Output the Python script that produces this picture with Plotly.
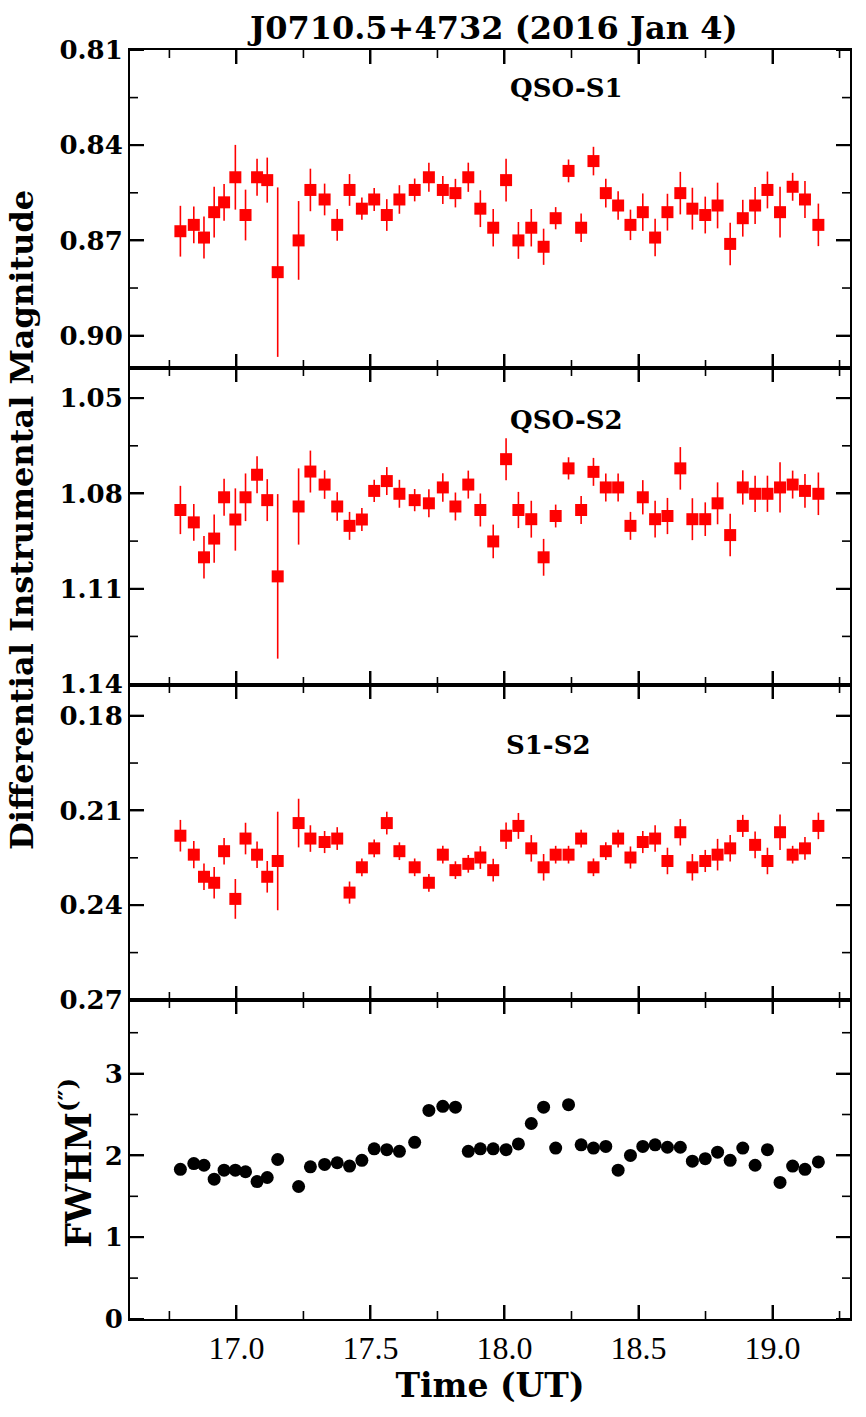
import plotly.graph_objects as go
from plotly.subplots import make_subplots

# ---- data ----
time_ut = [16.791, 16.841, 16.879, 16.917, 16.954, 16.996, 17.034, 17.077, 17.115, 17.154,
           17.232, 17.276, 17.329, 17.376, 17.422, 17.468, 17.514, 17.561, 17.608, 17.665,
           17.718, 17.770, 17.817, 17.865, 17.910, 17.958, 18.006, 18.052, 18.100, 18.146,
           18.191, 18.239, 18.286, 18.332, 18.378, 18.424, 18.470, 18.516, 18.562, 18.608,
           18.656, 18.701, 18.749, 18.795, 18.842, 18.889, 18.935, 18.981, 19.028, 19.075,
           19.121, 19.171]

qso_s1 = [0.8671, 0.8651, 0.8691, 0.8611, 0.8580, 0.8501, 0.8620, 0.8501, 0.8510, 0.8800,
          0.8700, 0.8541, 0.8571, 0.8651, 0.8541, 0.8600, 0.8571, 0.8620, 0.8571, 0.8541,
          0.8501, 0.8541, 0.8551, 0.8501, 0.8600, 0.8660, 0.8510, 0.8700, 0.8660, 0.8720,
          0.8630, 0.8481, 0.8660, 0.8450, 0.8551, 0.8590, 0.8651, 0.8611, 0.8691, 0.8611,
          0.8551, 0.8600, 0.8620, 0.8590, 0.8711, 0.8630, 0.8590, 0.8541, 0.8611, 0.8531,
          0.8571, 0.8651]
qso_s1_err = [0.0080, 0.0058, 0.0066, 0.0080, 0.0058, 0.0102, 0.0080, 0.0058, 0.0071, 0.0267,
              0.0124, 0.0067, 0.0050, 0.0050, 0.0050, 0.0035, 0.0036, 0.0050, 0.0045, 0.0036,
              0.0046, 0.0044, 0.0045, 0.0046, 0.0058, 0.0059, 0.0067, 0.0058, 0.0059, 0.0057,
              0.0035, 0.0036, 0.0045, 0.0045, 0.0045, 0.0045, 0.0048, 0.0059, 0.0059, 0.0058,
              0.0067, 0.0066, 0.0058, 0.0072, 0.0067, 0.0058, 0.0058, 0.0058, 0.0080, 0.0044,
              0.0058, 0.0067]

qso_s2 = [1.0852, 1.0891, 1.1001, 1.0942, 1.0812, 1.0882, 1.0812, 1.0741, 1.0821, 1.1061,
          1.0841, 1.0731, 1.0772, 1.0841, 1.0902, 1.0882, 1.0792, 1.0761, 1.0801, 1.0821,
          1.0831, 1.0781, 1.0841, 1.0772, 1.0852, 1.0951, 1.0692, 1.0852, 1.0881, 1.1001,
          1.0871, 1.0721, 1.0852, 1.0732, 1.0781, 1.0781, 1.0902, 1.0812, 1.0881, 1.0871,
          1.0721, 1.0881, 1.0881, 1.0831, 1.0931, 1.0781, 1.0801, 1.0801, 1.0781, 1.0772,
          1.0792, 1.0801]
qso_s2_err = [0.0076, 0.0058, 0.0067, 0.0076, 0.0058, 0.0098, 0.0075, 0.0058, 0.0066, 0.0259,
              0.0120, 0.0066, 0.0045, 0.0045, 0.0044, 0.0036, 0.0035, 0.0044, 0.0044, 0.0035,
              0.0044, 0.0045, 0.0044, 0.0044, 0.0052, 0.0053, 0.0066, 0.0057, 0.0058, 0.0058,
              0.0036, 0.0035, 0.0044, 0.0044, 0.0044, 0.0044, 0.0044, 0.0054, 0.0058, 0.0057,
              0.0067, 0.0066, 0.0053, 0.0066, 0.0067, 0.0054, 0.0057, 0.0057, 0.0079, 0.0044,
              0.0053, 0.0067]

s1_s2 = [0.2180, 0.2240, 0.2310, 0.2329, 0.2229, 0.2380, 0.2189, 0.2240, 0.2310, 0.2260,
         0.2140, 0.2189, 0.2200, 0.2189, 0.2360, 0.2280, 0.2220, 0.2140, 0.2229, 0.2280,
         0.2329, 0.2240, 0.2289, 0.2269, 0.2249, 0.2289, 0.2180, 0.2149, 0.2220, 0.2280,
         0.2240, 0.2240, 0.2189, 0.2280, 0.2229, 0.2189, 0.2249, 0.2200, 0.2189, 0.2260,
         0.2169, 0.2280, 0.2260, 0.2240, 0.2220, 0.2149, 0.2209, 0.2260, 0.2169, 0.2240,
         0.2220, 0.2149]
s1_s2_err = [0.0050, 0.0043, 0.0042, 0.0050, 0.0042, 0.0063, 0.0050, 0.0042, 0.0050, 0.0156,
             0.0077, 0.0042, 0.0035, 0.0036, 0.0035, 0.0028, 0.0028, 0.0036, 0.0028, 0.0028,
             0.0028, 0.0028, 0.0028, 0.0028, 0.0036, 0.0036, 0.0042, 0.0041, 0.0042, 0.0042,
             0.0028, 0.0028, 0.0028, 0.0028, 0.0028, 0.0028, 0.0035, 0.0035, 0.0042, 0.0042,
             0.0042, 0.0042, 0.0035, 0.0050, 0.0042, 0.0035, 0.0042, 0.0042, 0.0056, 0.0028,
             0.0036, 0.0042]

fwhm = [1.83, 1.90, 1.88, 1.71, 1.82, 1.82, 1.80, 1.68, 1.73, 1.95,
        1.62, 1.86, 1.89, 1.91, 1.87, 1.94, 2.08, 2.07, 2.05, 2.16,
        2.55, 2.60, 2.59, 2.05, 2.08, 2.08, 2.07, 2.14, 2.39, 2.59,
        2.09, 2.62, 2.13, 2.09, 2.11, 1.82, 2.00, 2.11, 2.13, 2.10,
        2.10, 1.93, 1.96, 2.04, 1.94, 2.09, 1.88, 2.07, 1.67, 1.87,
        1.83, 1.92]

x_ticks = [17.0, 17.5, 18.0, 18.5, 19.0]
x_tick_labels = ["17.0", "17.5", "18.0", "18.5", "19.0"]
x_minor = [16.75, 17.25, 17.75, 18.25, 18.75, 19.25]
y1_ticks = [0.81, 0.84, 0.87, 0.90]
y1_labels = ["0.81", "0.84", "0.87", "0.90"]
y1_minor = [0.825, 0.855, 0.885]
y2_ticks = [1.05, 1.08, 1.11, 1.14]
y2_labels = ["1.05", "1.08", "1.11", "1.14"]
y2_minor = [1.065, 1.095, 1.125]
y3_ticks = [0.18, 0.21, 0.24, 0.27]
y3_labels = ["0.18", "0.21", "0.24", "0.27"]
y3_minor = [0.195, 0.225, 0.255]
y4_ticks = [0, 1, 2, 3]
y4_labels = ["0", "1", "2", "3"]
y4_minor = [0.5, 1.5, 2.5, 3.5]

title_text = "J0710.5+4732 (2016 Jan 4)"
panel_labels = ["QSO-S1", "QSO-S2", "S1-S2"]

# ---- figure ----
W, H = 866, 1417
ML, MR, MT, MB = 130, 16, 50, 98
PH = H - MT - MB
PW = W - ML - MR
ROW_H = [318, 317, 315, 319]

fig = make_subplots(rows=4, cols=1, shared_xaxes=True, vertical_spacing=0,
                    row_heights=ROW_H)

RED = "#ff0000"
for i, (yv, ev) in enumerate([(qso_s1, qso_s1_err), (qso_s2, qso_s2_err), (s1_s2, s1_s2_err)]):
    fig.add_trace(go.Scatter(
        x=time_ut, y=yv, mode="markers",
        marker=dict(symbol="square", size=12, color=RED, line=dict(width=0)),
        error_y=dict(type="data", array=ev, color=RED, thickness=1.6, width=0),
        showlegend=False), row=i + 1, col=1)

fig.add_trace(go.Scatter(
    x=time_ut, y=fwhm, mode="markers",
    marker=dict(symbol="circle", size=13, color="black", line=dict(width=0)),
    showlegend=False), row=4, col=1)

BOLD = "DejaVu Serif"
REG = "Liberation Serif"

y_specs = [
    (y1_ticks, y1_labels, y1_minor, [0.9102, 0.8100]),
    (y2_ticks, y2_labels, y2_minor, [1.1403, 1.0405]),
    (y3_ticks, y3_labels, y3_minor, [0.2700, 0.1703]),
    (y4_ticks, y4_labels, y4_minor, [0.0, 3.9]),
]
for i, (tv, tt, mv, rng) in enumerate(y_specs):
    fig.update_yaxes(row=i + 1, col=1, range=rng,
                     tickmode="array", tickvals=tv, ticktext=["<b>%s</b>" % t for t in tt],
                     ticks="inside", ticklen=14, tickwidth=2, tickcolor="black",
                     showline=True, linecolor="black", linewidth=2, mirror="allticks",
                     showgrid=False, zeroline=False,
                     tickfont=dict(family=BOLD, size=26, color="black"))
    fig.update_xaxes(row=i + 1, col=1, range=[16.603, 19.289],
                     tickmode="array", tickvals=x_ticks, ticktext=x_tick_labels,
                     ticks="inside", ticklen=14, tickwidth=2, tickcolor="black",
                     showline=True, linecolor="black", linewidth=2, mirror="allticks",
                     showgrid=False, zeroline=False,
                     tickfont=dict(family=REG, size=32, color="black"))

fig.update_xaxes(row=4, col=1, title=dict(text="<b>Time (UT)</b>", standoff=4,
                 font=dict(family=BOLD, size=33, color="black")))

# explicit tick marks (inside, on all four sides) drawn from the tick arrays
MAJ, MIN = 14, 8
shapes = []
for i, (tv, tt, mv, rng) in enumerate(y_specs):
    sfx = "" if i == 0 else str(i + 1)
    xr, yr = "x" + sfx, "y" + sfx
    ph = ROW_H[i]
    for vals, ln, lw in ((x_ticks, MAJ, 2), (x_minor, MIN, 1.6)):
        f = ln / ph
        for v in vals:
            for y0, y1 in ((0, f), (1, 1 - f)):
                shapes.append(dict(type="line", xref=xr, yref=yr + " domain",
                                   x0=v, x1=v, y0=y0, y1=y1,
                                   line=dict(color="black", width=lw)))
    for vals, ln, lw in ((tv, MAJ, 2), (mv, MIN, 1.6)):
        f = ln / PW
        for v in vals:
            for x0, x1 in ((0, f), (1, 1 - f)):
                shapes.append(dict(type="line", xref=xr + " domain", yref=yr,
                                   x0=x0, x1=x1, y0=v, y1=v,
                                   line=dict(color="black", width=lw)))

def px_x(px):
    return (px - ML) / PW

def px_y(py):
    return (H - MB - py) / PH

annotations = [
    dict(text="<b>%s</b>" % title_text, x=px_x(492), y=px_y(28),
         font=dict(family=BOLD, size=32, color="black")),
    dict(text="<b>Differential Instrumental Magnitude</b>", x=px_x(22), y=px_y(520),
         textangle=-90, font=dict(family=BOLD, size=32, color="black")),
    dict(text="<b>FWHM<sup>(″)</sup></b>", x=px_x(76), y=px_y(1163),
         textangle=-90, font=dict(family=BOLD, size=35, color="black")),
]
for lbl, (px, py) in zip(panel_labels, [(566, 88), (566, 420), (548, 745)]):
    annotations.append(dict(text="<b>%s</b>" % lbl, x=px_x(px), y=px_y(py),
                            font=dict(family=BOLD, size=26, color="black")))
for an in annotations:
    an.update(xref="paper", yref="paper", showarrow=False, xanchor="center", yanchor="middle")

fig.update_layout(width=W, height=H, margin=dict(l=ML, r=MR, t=MT, b=MB),
                  paper_bgcolor="white", plot_bgcolor="white",
                  annotations=annotations, shapes=shapes)

fig.write_html("out.html")
